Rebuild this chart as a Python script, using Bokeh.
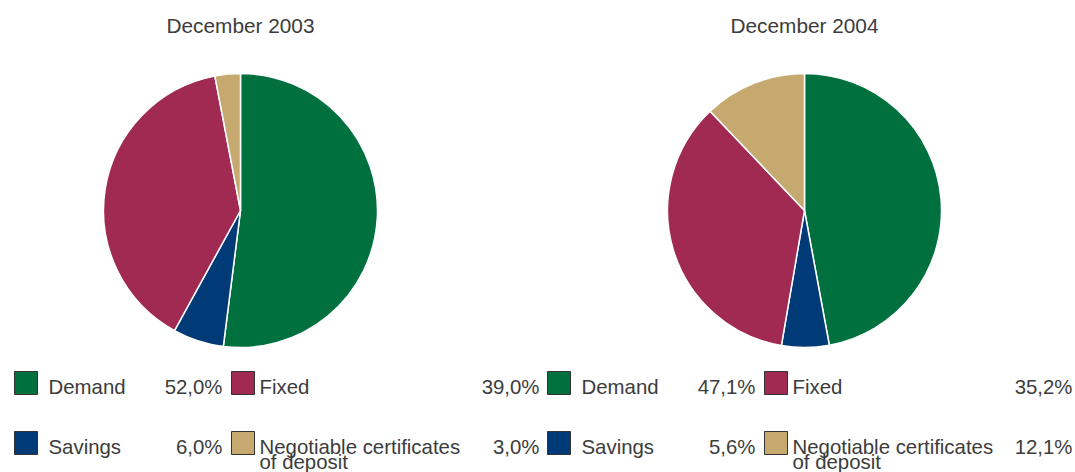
import numpy as np
from bokeh.plotting import figure
from bokeh.models import Range1d
from bokeh.core.properties import value
from bokeh.embed import file_html
from bokeh.resources import INLINE

# ---- data ----
categories = ["Demand", "Savings", "Fixed", "Negotiable certificates of deposit"]
legend_lines = [["Demand"], ["Savings"], ["Fixed"], ["Negotiable certificates", "of deposit"]]
values_2003 = [52.0, 6.0, 39.0, 3.0]
values_2004 = [47.1, 5.6, 35.2, 12.1]
titles = ["December 2003", "December 2004"]
colors = ["#00703F", "#003B78", "#A02A52", "#C6A96F"]

W, H = 1075, 472
FONT = "Liberation Sans"
TXT = "#3c3c3c"

p = figure(width=W, height=H, output_backend="svg", toolbar_location=None,
           x_range=Range1d(0, W), y_range=Range1d(0, H),
           min_border=0, outline_line_color=None)
p.axis.visible = False
p.grid.visible = False

def Y(py):
    # page pixel y -> data y
    return H - py

centers_x = [240, 804]
center_y = 210
radius = 137
offsets = [0, 533]

for k, vals in enumerate([values_2003, values_2004]):
    v = np.array(vals, dtype=float)
    frac = v / v.sum()
    cum = np.concatenate([[0.0], np.cumsum(frac)])
    starts = np.pi / 2 - cum[:-1] * 2 * np.pi
    ends = np.pi / 2 - cum[1:] * 2 * np.pi
    p.wedge(x=[centers_x[k]] * len(v), y=[Y(center_y)] * len(v), radius=radius,
            start_angle=list(starts), end_angle=list(ends), direction="clock",
            fill_color=colors, line_color="white", line_width=1.5)
    # title
    p.text(x=[centers_x[k]], y=[Y(25)], text=[titles[k]], text_font=value(FONT),
           text_font_size="20.8px", text_color=TXT, text_align="center",
           text_baseline="alphabetic")
    # legend
    off = offsets[k]
    for i, cat in enumerate(categories):
        row = i % 2
        col = i // 2
        sq_left = [14, 231][col] + off
        sq_top = 371 + row * 60
        p.rect(x=[sq_left + 11.5], y=[Y(sq_top + 11.5)], width=23, height=23,
               fill_color=colors[i], line_color="#333333", line_width=1)
        lx = [48, 259][col] + off
        base = 386 + row * 60
        for j, line in enumerate(legend_lines[i]):
            p.text(x=[lx], y=[Y(base + j * 15)], text=[line], text_font=value(FONT),
                   text_font_size="20.4px", text_color=TXT, text_align="left",
                   text_baseline="alphabetic")
        vx = min([222, 539][col] + off, 1072)
        p.text(x=[vx], y=[Y(base)], text=[f"{vals[i]:.1f}%".replace(".", ",")],
               text_font=value(FONT), text_font_size="20.4px", text_color=TXT,
               text_align="right", text_baseline="alphabetic")

open("out.html", "w").write(file_html(p, INLINE))
